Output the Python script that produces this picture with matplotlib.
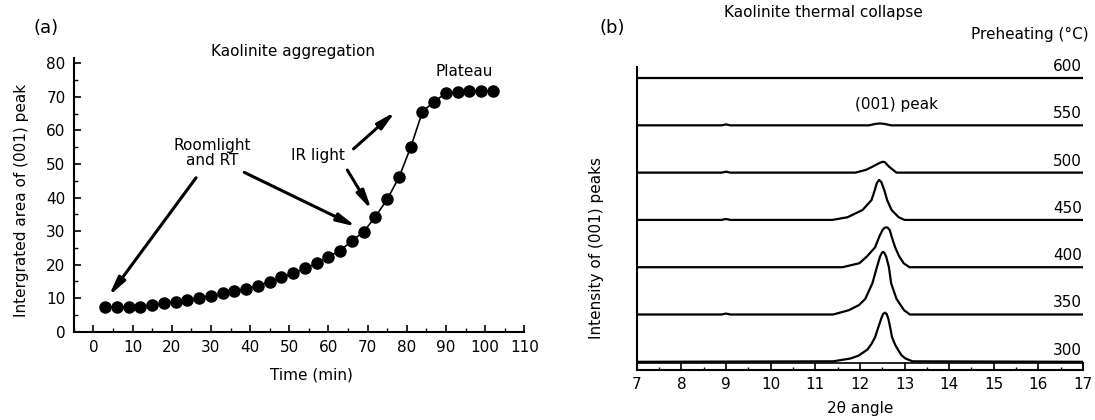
import matplotlib
matplotlib.use("Agg")
import matplotlib.pyplot as plt
from matplotlib.ticker import MultipleLocator

plt.rcParams['font.family'] = ['DejaVu Sans']
plt.rcParams['font.size'] = 11

# ---- panel (a): aggregation kinetics ----
time_min = [3, 6, 9, 12, 15, 18, 21, 24, 27, 30, 33, 36, 39, 42, 45, 48, 51,
            54, 57, 60, 63, 66, 69, 72, 75, 78, 81, 84, 87, 90, 93, 96, 99, 102]
peak_area = [7.5, 7.3, 7.3, 7.4, 8.0, 8.5, 9.0, 9.5, 10.0, 10.6, 11.4, 12.1,
             12.8, 13.7, 14.9, 16.2, 17.4, 18.9, 20.4, 22.4, 24.2, 27.1, 29.8,
             34.3, 39.5, 46.0, 55.0, 65.6, 68.6, 71.1, 71.4, 71.7, 71.7, 71.7]

# arrows: (text end, point end) in data units
arrows = [((26.2, 45.9), (3.9, 10.6)),
          ((38.5, 47.5), (67.1, 31.3)),
          ((64.8, 48.2), (71.0, 36.3)),
          ((66.4, 54.5), (77.1, 65.6))]

# ---- panel (b): XRD traces, offset one unit apart ----
preheat = [300, 350, 400, 450, 500, 550, 600]
trace_x = {
    300: [7.0, 11.4, 11.79, 11.97, 12.17, 12.26, 12.34, 12.42, 12.48, 12.52,
          12.56, 12.60, 12.64, 12.68, 12.72, 12.79, 12.85, 12.93, 13.02, 13.18,
          17.0],
    350: [7.0, 8.9, 9.0, 9.1, 11.4, 11.75, 11.98, 12.12, 12.28, 12.38, 12.45,
          12.49, 12.52, 12.55, 12.59, 12.65, 12.70, 12.82, 12.99, 13.12, 17.0],
    400: [7.0, 11.61, 11.99, 12.16, 12.34, 12.44, 12.51, 12.55, 12.59, 12.63,
          12.67, 12.72, 12.79, 12.88, 12.98, 13.11, 17.0],
    450: [7.0, 8.9, 9.0, 9.1, 11.38, 11.72, 12.06, 12.26, 12.33, 12.38, 12.43,
          12.48, 12.55, 12.61, 12.71, 12.87, 13.0, 17.0],
    500: [7.0, 8.9, 9.0, 9.1, 11.9, 12.14, 12.27, 12.41, 12.48, 12.52, 12.56,
          12.61, 12.66, 12.82, 17.0],
    550: [7.0, 8.9, 9.0, 9.1, 12.2, 12.35, 12.45, 12.55, 12.7, 17.0],
    600: [7.0, 17.0],
}
trace_y = {
    300: [0, 0.01, 0.07, 0.13, 0.26, 0.38, 0.52, 0.75, 0.92, 1.01,
          1.04, 1.01, 0.90, 0.72, 0.52, 0.36, 0.26, 0.14, 0.07, 0.01, 0],
    350: [0, 0, 0.02, 0, 0, 0.09, 0.2, 0.33, 0.66, 1.0, 1.22,
          1.30, 1.325, 1.30, 1.22, 1.0, 0.66, 0.33, 0.09, 0, 0],
    400: [0, 0, 0.085, 0.23, 0.42, 0.66, 0.79, 0.83, 0.846, 0.83,
          0.78, 0.62, 0.42, 0.23, 0.085, 0, 0],
    450: [0, 0, 0.02, 0, 0, 0.056, 0.21, 0.42, 0.62, 0.78, 0.846,
          0.80, 0.62, 0.42, 0.21, 0.056, 0, 0],
    500: [0, 0, 0.02, 0, 0, 0.06, 0.12, 0.19, 0.22, 0.23, 0.22,
          0.17, 0.12, 0, 0],
    550: [0, 0, 0.02, 0, 0, 0.03, 0.04, 0.03, 0, 0],
    600: [0, 0],
}

fig = plt.figure(figsize=(10.95, 4.2), dpi=100)

# ---------------- (a) ----------------
ax1 = fig.add_axes([0.0675, 0.2102, 0.4113, 0.651])
ax1.plot(time_min, peak_area, '-o', color='black', lw=1.2, ms=8,
         clip_on=False, zorder=3)
for start, end in arrows:
    ax1.annotate('', xy=end, xytext=start,
                 arrowprops=dict(arrowstyle='-|>,head_length=1.0,head_width=0.22',
                                 lw=2.2, color='black', shrinkA=0, shrinkB=0))
ax1.text(30.3, 53.2, 'Roomlight\nand RT', ha='center', va='center',
         linespacing=1.0)
ax1.text(57.4, 52.4, 'IR light', ha='center', va='center')
ax1.text(94.6, 77.7, 'Plateau', ha='center', va='center')

ax1.set_xlim(-5, 110)
ax1.set_ylim(0, 81.5)
ax1.spines['top'].set_visible(False)
ax1.spines['right'].set_visible(False)
for s in ('left', 'bottom'):
    ax1.spines[s].set_linewidth(1.5)
ax1.set_xticks(range(0, 111, 10))
ax1.set_yticks(range(0, 81, 10))
ax1.xaxis.set_minor_locator(MultipleLocator(5))
ax1.yaxis.set_minor_locator(MultipleLocator(5))
ax1.tick_params(which='major', direction='in', length=5, width=1.2, pad=6)
ax1.tick_params(which='minor', direction='in', length=3, width=1.0)

fig.text(21.4 / 1095, 1 - 200 / 420, 'Intergrated area of (001) peak',
         rotation=90, ha='center', va='center')
fig.text(311.8 / 1095, 1 - 375 / 420, 'Time (min)', ha='center', va='center')
fig.text(292.9 / 1095, 1 - 51.7 / 420, 'Kaolinite aggregation',
         ha='center', va='center')
fig.text(46.4 / 1095, 1 - 28.3 / 420, '(a)', ha='center', va='center',
         fontsize=13)

# ---------------- (b) ----------------
ax2 = fig.add_axes([0.5815, 0.1183, 0.4076, 0.7229])
for i, t in enumerate(preheat):
    ys = [v + i for v in trace_y[t]]
    ax2.plot(trace_x[t], ys, color='black', lw=1.6)
    ax2.text(16.98, i + 0.15, str(t), ha='right', va='baseline')
ax2.text(12.82, 5.45, '(001) peak', ha='center', va='center')

ax2.set_xlim(7, 17)
ax2.set_ylim(-0.18, 6.24)
ax2.spines['top'].set_visible(False)
ax2.spines['right'].set_visible(False)
for s in ('left', 'bottom'):
    ax2.spines[s].set_linewidth(1.5)
# narrow frame strip along the bottom axis
ax2.axhline(-0.034, color='black', lw=1.2)
ax2.plot([17, 17], [-0.18, -0.034], color='black', lw=1.5, clip_on=False)
ax2.set_xticks(range(7, 18))
ax2.xaxis.set_minor_locator(MultipleLocator(0.5))
ax2.set_yticks([])
ax2.tick_params(which='major', direction='in', length=5.2, width=1.2, pad=5)
ax2.tick_params(which='minor', direction='in', length=2.5, width=1.0)
ax2.set_xlabel('2θ angle', labelpad=6)

fig.text(596.6 / 1095, 1 - 248 / 420, 'Intensity of (001) peaks',
         rotation=90, ha='center', va='center')
fig.text(823 / 1095, 1 - 12.3 / 420, 'Kaolinite thermal collapse',
         ha='center', va='center')
fig.text(612.6 / 1095, 1 - 28.3 / 420, '(b)', ha='center', va='center',
         fontsize=13)
fig.text(1089 / 1095, 1 - 34 / 420, 'Preheating (°C)', ha='right',
         va='center')

fig.savefig('out.png', dpi=100)
